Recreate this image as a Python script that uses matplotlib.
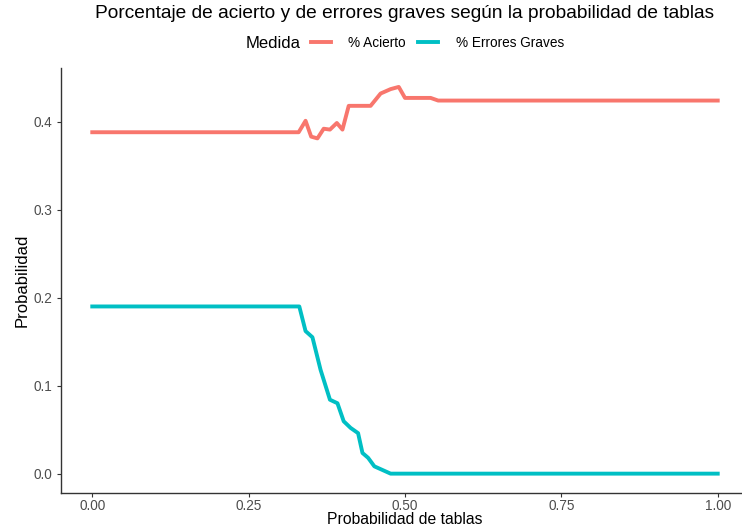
import matplotlib.pyplot as plt

plt.rcParams['font.family'] = ['Liberation Sans', 'DejaVu Sans']

# % Acierto readings (probabilidad de tablas vs probabilidad)
acierto_x = [0.00, 0.330, 0.341, 0.350, 0.360, 0.370, 0.380, 0.391, 0.400, 0.410,
             0.445, 0.461, 0.477, 0.490, 0.500, 0.541, 0.553, 1.00]
acierto_y = [0.388, 0.388, 0.401, 0.383, 0.381, 0.392, 0.391, 0.3985, 0.391, 0.418,
             0.418, 0.432, 0.437, 0.4395, 0.427, 0.427, 0.424, 0.424]

# % Errores Graves readings
errores_x = [0.00, 0.331, 0.341, 0.352, 0.365, 0.380, 0.392, 0.402, 0.413, 0.425,
             0.432, 0.441, 0.451, 0.477, 1.00]
errores_y = [0.190, 0.190, 0.162, 0.155, 0.118, 0.084, 0.080, 0.0595, 0.052, 0.046,
             0.0235, 0.018, 0.0083, 0.0, 0.0]

x_ticks = [0.00, 0.25, 0.50, 0.75, 1.00]
x_labels = ['0.00', '0.25', '0.50', '0.75', '1.00']
y_ticks = [0.0, 0.1, 0.2, 0.3, 0.4]
y_labels = ['0.0', '0.1', '0.2', '0.3', '0.4']

fig = plt.figure(figsize=(7.42, 5.26), dpi=100)
ax = fig.add_axes([61 / 742, 33 / 526, 688 / 742, 425 / 526])

l1, = ax.plot(acierto_x, acierto_y, color='#F8766D', lw=2.8, label='% Acierto',
              solid_joinstyle='round')
l2, = ax.plot(errores_x, errores_y, color='#00BFC4', lw=2.8, label='% Errores Graves',
              solid_joinstyle='round')

ax.set_xlim(-0.05, 1.05)
ax.set_ylim(-0.022, 0.461)
ax.set_xticks(x_ticks)
ax.set_xticklabels(x_labels)
ax.set_yticks(y_ticks)
ax.set_yticklabels(y_labels)
ax.tick_params(axis='both', colors='#333333', labelcolor='#4D4D4D', labelsize=9.8,
               length=3, width=0.8)
ax.tick_params(axis='x', pad=1)
ax.tick_params(axis='y', pad=3)

for side in ['top', 'right']:
    ax.spines[side].set_visible(False)
for side in ['left', 'bottom']:
    ax.spines[side].set_color('#333333')
    ax.spines[side].set_linewidth(1.0)

# x label placed by hand so it stays inside the canvas
fig.text(405 / 742, 1 - 519.5 / 526, 'Probabilidad de tablas', ha='center', va='center',
         fontsize=11.3)
ax.set_ylabel('Probabilidad', fontsize=12, labelpad=3)

fig.text(405 / 742, 1 - 14 / 526, 'Porcentaje de acierto y de errores graves según la probabilidad de tablas',
         ha='center', va='center', fontsize=13.8)

fig.text(246 / 742, 1 - 43 / 526, 'Medida', ha='left', va='center', fontsize=12)
fig.legend(handles=[l1, l2], ncol=2, frameon=False, fontsize=9.8,
           loc='center left', bbox_to_anchor=(311 / 742, 1 - 43 / 526),
           handlelength=1.45, handletextpad=1.3, columnspacing=0.9, borderaxespad=0,
           borderpad=0)

fig.savefig('out.png', dpi=100)
